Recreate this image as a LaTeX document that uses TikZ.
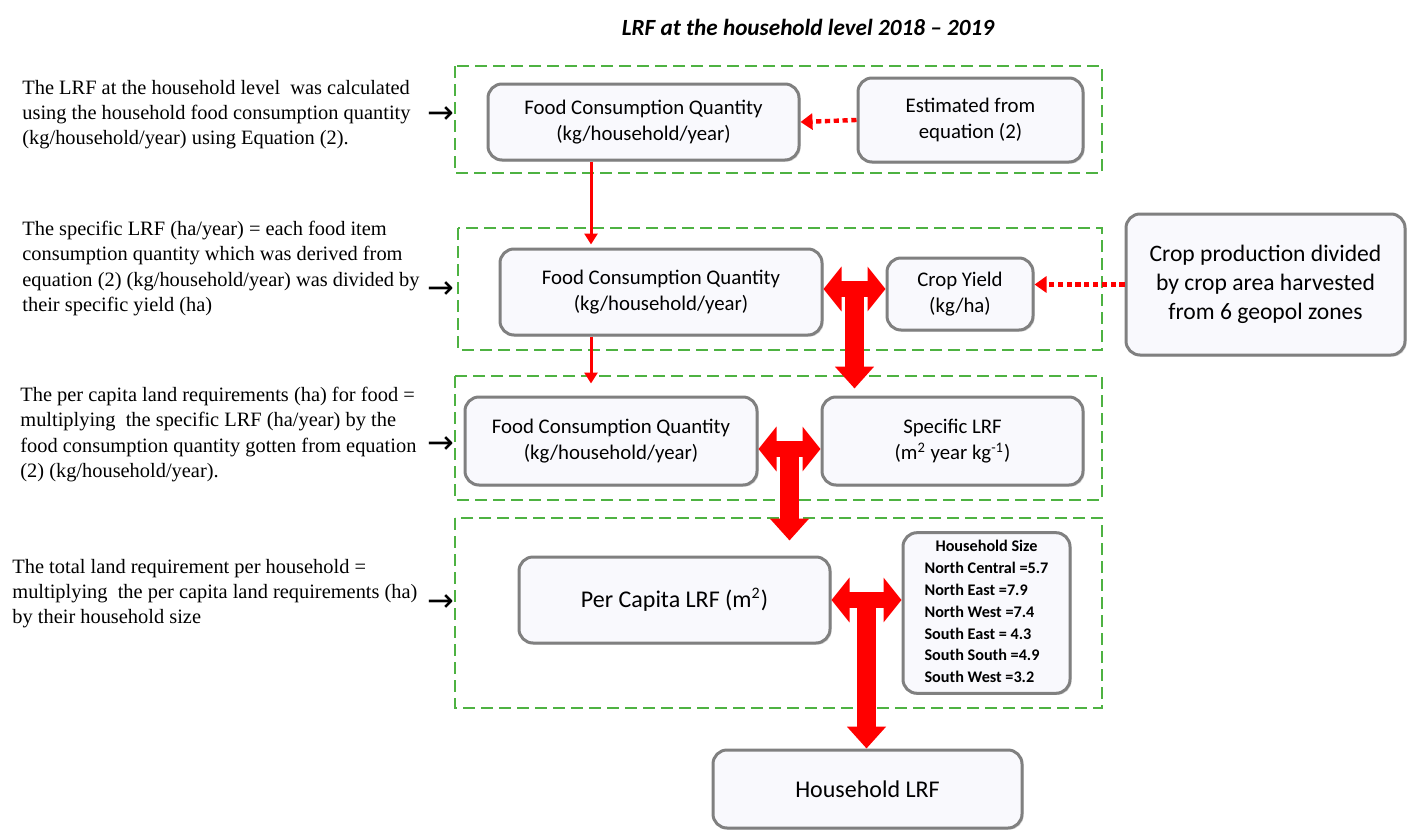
\documentclass[tikz,border=0pt]{standalone}
\usepackage{fontspec}
\setmainfont{Liberation Serif}
\newfontfamily\boxfont{Carlito}
\newfontfamily\symfont{DejaVu Sans}
\usetikzlibrary{arrows.meta,shadows,calc}
\definecolor{zonegreen}{RGB}{78,178,66}
\definecolor{boxfill}{RGB}{249,249,253}

\begin{document}
\begin{tikzpicture}[x=0.5pt,y=-0.5pt,
  box/.style={
    draw=black!50, line width=1.5pt, fill=boxfill,
    rounded corners=7pt,
    drop shadow={opacity=0.3, shadow xshift=0.8pt, shadow yshift=-0.8pt},
    inner sep=2pt, align=center,
    font=\boxfont\fontsize{10.4}{13}\selectfont
  },
  zone/.style={draw=zonegreen, line width=1.3pt, dash pattern=on 6pt off 3pt},
  note/.style={anchor=north west, align=left, inner sep=0pt,
    font=\fontsize{10.2}{12.6}\selectfont},
  pointer/.style={inner sep=0pt, font=\symfont\fontsize{16}{16}\selectfont},
  feed/.style={draw=red, line width=1.5pt, -{Triangle[width=6.5pt,length=5.5pt]}},
  source/.style={draw=red, line width=2.2pt, dash pattern=on 2.6pt off 1.8pt,
    -{Triangle[width=8pt,length=6pt]}},
  fat/.style={draw=red, line width=9.5pt, -{Triangle[width=19pt,length=11pt]}},
  fatboth/.style={draw=red, line width=8pt,
    {Triangle[width=22pt,length=9pt]}-{Triangle[width=22pt,length=9pt]}}
]
\useasboundingbox (0,0) rectangle (1409,830);

% --- Title ---
\node[font=\boxfont\bfseries\itshape\fontsize{11.6}{14}\selectfont] (title) at (808,27)
  {LRF at the household level 2018 – 2019};

% --- Dashed zones ---
\draw[zone] (455,66) rectangle (1102,173);
\draw[zone] (458,228) rectangle (1102,350);
\draw[zone] (455,376) rectangle (1102,500);
\draw[zone] (455,518) rectangle (1102,708);

% --- Boxes ---
\node[box, minimum width=155.5pt, minimum height=38pt] (fcq1) at (643.5,122)
  {Food Consumption Quantity\\(kg/household/year)};
\node[box, minimum width=112.5pt, minimum height=42pt] (est) at (970.5,120)
  {Estimated from\\equation (2)};
\node[box, minimum width=161pt, minimum height=43pt] (fcq2) at (661,292)
  {Food Consumption Quantity\\(kg/household/year)};
\node[box, minimum width=73pt, minimum height=36pt] (yield) at (960,294)
  {Crop Yield\\(kg/ha)};
\node[box, minimum width=139.5pt, minimum height=70.5pt,
  font=\boxfont\fontsize{11.8}{14.5}\selectfont] (prod) at (1265.5,284.5)
  {Crop production divided\\by crop area harvested\\from 6 geopol zones};
\node[box, minimum width=146pt, minimum height=44pt] (fcq3) at (611,441)
  {Food Consumption Quantity\\(kg/household/year)};
\node[box, minimum width=130.5pt, minimum height=44pt] (slrf) at (952.5,441)
  {Specific LRF\\(m\textsuperscript{2} year kg\textsuperscript{-1})};
\node[box, minimum width=155.5pt, minimum height=43pt,
  font=\boxfont\fontsize{12}{14}\selectfont] (pclrf) at (674.5,600)
  {Per Capita LRF (m\textsuperscript{2})};
\node[box, minimum width=83.5pt, minimum height=80pt,
  font=\boxfont\bfseries\fontsize{8.1}{10.9}\selectfont] (hsize) at (986.5,613)
  {\begin{tabular}{@{}l@{}}
   \multicolumn{1}{@{}c@{}}{Household Size}\\
   North Central =5.7\\
   North East =7.9\\
   North West =7.4\\
   South East = 4.3\\
   South South =4.9\\
   South West =3.2
   \end{tabular}};
\node[box, minimum width=154.5pt, minimum height=39pt,
  font=\boxfont\fontsize{12}{14}\selectfont] (hlrf) at (867.5,789)
  {Household LRF};

% --- Notes (left) ---
\node[note] (n1) at (22,80)
  {The LRF at the household level\ \ was calculated\\
   using the household food consumption quantity\\
   (kg/household/year) using Equation (2).};
\node[note] (n2) at (22,221)
  {The specific LRF (ha/year) = each food item\\
   consumption quantity which was derived from\\
   equation (2) (kg/household/year) was divided by\\
   their specific yield (ha)};
\node[note] (n3) at (20,387)
  {The per capita land requirements (ha) for food =\\
   multiplying\ \ the specific LRF (ha/year) by the\\
   food consumption quantity gotten from equation\\
   (2) (kg/household/year).};
\node[note] (n4) at (12,559)
  {The total land requirement per household =\\
   multiplying\ \ the per capita land requirements (ha)\\
   by their household size};

\node[pointer] (p1) at (441,115) {→};
\node[pointer] (p2) at (441,290) {→};
\node[pointer] (p3) at (441,445) {→};
\node[pointer] (p4) at (441,603) {→};

% --- Thin arrows ---
\coordinate (ax) at (591,0);
\draw[feed, shorten >=1.5pt] (fcq1.south -| ax) -- (fcq2.north -| ax);
\draw[feed, shorten >=6pt] (fcq2.south -| ax) -- (fcq3.north -| ax);

% --- Dotted arrows ---
\draw[source] (est.west) -- (fcq1.east);
\draw[source] (prod.west) -- (prod.west -| yield.east);

% --- Fat T arrows ---
\draw[fatboth] ([yshift=1.5pt]fcq2.east) -- ([yshift=1.5pt]fcq2.east -| yield.west);
\coordinate (t1) at ($([yshift=1.5pt]fcq2.east)!0.5!([yshift=1.5pt]fcq2.east -| yield.west)$);
\draw[fat, shorten >=3.5pt] (t1) -- (t1 |- slrf.north);

\draw[fatboth] ([yshift=-4pt]fcq3.east) -- ([yshift=-4pt]slrf.west);
\coordinate (t2) at ($([yshift=-4pt]fcq3.east)!0.5!([yshift=-4pt]slrf.west)$);
\draw[fat, shorten >=7.5pt] (t2) -- (t2 |- pclrf.north);

\draw[fatboth] (pclrf.east) -- (pclrf.east -| hsize.west);
\coordinate (t3) at ($(pclrf.east)!0.5!(pclrf.east -| hsize.west)$);
\draw[fat] (t3) -- (t3 |- hlrf.north);

\end{tikzpicture}
\end{document}
